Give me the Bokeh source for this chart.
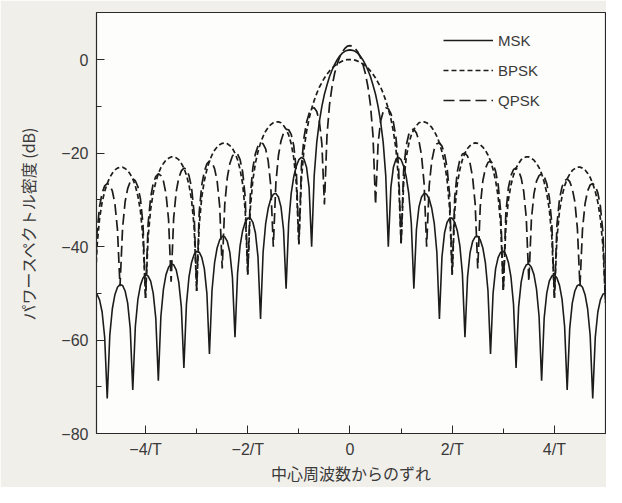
from bokeh.plotting import figure
from bokeh.models import Range1d, FixedTicker, Legend, LegendItem
from bokeh.embed import file_html
from bokeh.resources import INLINE

# frequency offset from the carrier, in units of 1/T
freq = [
    -5.00, -4.95, -4.90, -4.85, -4.80, -4.75, -4.70, -4.65, -4.60, -4.55,
    -4.50, -4.45, -4.40, -4.35, -4.30, -4.25, -4.20, -4.15, -4.10, -4.05,
    -4.00, -3.95, -3.90, -3.85, -3.80, -3.75, -3.70, -3.65, -3.60, -3.55,
    -3.50, -3.45, -3.40, -3.35, -3.30, -3.25, -3.20, -3.15, -3.10, -3.05,
    -3.00, -2.95, -2.90, -2.85, -2.80, -2.75, -2.70, -2.65, -2.60, -2.55,
    -2.50, -2.45, -2.40, -2.35, -2.30, -2.25, -2.20, -2.15, -2.10, -2.05,
    -2.00, -1.95, -1.90, -1.85, -1.80, -1.75, -1.70, -1.65, -1.60, -1.55,
    -1.50, -1.45, -1.40, -1.35, -1.30, -1.25, -1.20, -1.15, -1.10, -1.05,
    -1.00, -0.95, -0.90, -0.85, -0.80, -0.75, -0.70, -0.65, -0.60, -0.55,
    -0.50, -0.45, -0.40, -0.35, -0.30, -0.25, -0.20, -0.15, -0.10, -0.05,
    0.00, 0.05, 0.10, 0.15, 0.20, 0.25, 0.30, 0.35, 0.40, 0.45,
    0.50, 0.55, 0.60, 0.65, 0.70, 0.75, 0.80, 0.85, 0.90, 0.95,
    1.00, 1.05, 1.10, 1.15, 1.20, 1.25, 1.30, 1.35, 1.40, 1.45,
    1.50, 1.55, 1.60, 1.65, 1.70, 1.75, 1.80, 1.85, 1.90, 1.95,
    2.00, 2.05, 2.10, 2.15, 2.20, 2.25, 2.30, 2.35, 2.40, 2.45,
    2.50, 2.55, 2.60, 2.65, 2.70, 2.75, 2.80, 2.85, 2.90, 2.95,
    3.00, 3.05, 3.10, 3.15, 3.20, 3.25, 3.30, 3.35, 3.40, 3.45,
    3.50, 3.55, 3.60, 3.65, 3.70, 3.75, 3.80, 3.85, 3.90, 3.95,
    4.00, 4.05, 4.10, 4.15, 4.20, 4.25, 4.30, 4.35, 4.40, 4.45,
    4.50, 4.55, 4.60, 4.65, 4.70, 4.75, 4.80, 4.85, 4.90, 4.95,
    5.00,
]

msk_db = [
    -49.9, -50.2, -51.4, -54.0, -59.4, -72.5, -59.0, -53.3, -50.3, -48.7,
    -48.1, -48.3, -49.5, -52.1, -57.5, -70.7, -57.1, -51.3, -48.3, -46.7,
    -46.0, -46.3, -47.4, -50.0, -55.3, -68.7, -54.9, -49.1, -46.0, -44.4,
    -43.7, -43.9, -45.0, -47.6, -52.9, -66.0, -52.3, -46.5, -43.4, -41.7,
    -41.0, -41.2, -42.3, -44.7, -50.0, -63.0, -49.4, -43.5, -40.3, -38.6,
    -37.8, -37.9, -38.9, -41.3, -46.6, -59.4, -45.8, -39.8, -36.6, -34.8,
    -33.9, -33.9, -34.8, -37.1, -42.2, -55.5, -41.2, -35.1, -31.8, -29.8,
    -28.8, -28.6, -29.4, -31.5, -36.4, -49.0, -35.0, -28.6, -25.0, -22.8,
    -21.4, -20.9, -21.3, -23.0, -27.4, -40.0, -24.8, -17.7, -13.3, -10.0,
    -7.4, -5.4, -3.6, -2.2, -1.0, 0.0, 0.8, 1.4, 1.8, 2.0,
    2.1, 2.0, 1.8, 1.4, 0.8, 0.0, -1.0, -2.2, -3.6, -5.4,
    -7.4, -10.0, -13.3, -17.7, -24.8, -40.0, -27.4, -23.0, -21.3, -20.9,
    -21.4, -22.8, -25.0, -28.6, -35.0, -49.0, -36.4, -31.5, -29.4, -28.6,
    -28.8, -29.8, -31.8, -35.1, -41.2, -55.5, -42.2, -37.1, -34.8, -33.9,
    -33.9, -34.8, -36.6, -39.8, -45.8, -59.4, -46.6, -41.3, -38.9, -37.9,
    -37.8, -38.6, -40.3, -43.5, -49.4, -63.0, -50.0, -44.7, -42.3, -41.2,
    -41.0, -41.7, -43.4, -46.5, -52.3, -66.0, -52.9, -47.6, -45.0, -43.9,
    -43.7, -44.4, -46.0, -49.1, -54.9, -68.7, -55.3, -50.0, -47.4, -46.3,
    -46.0, -46.7, -48.3, -51.3, -57.1, -70.7, -57.5, -52.1, -49.5, -48.3,
    -48.1, -48.7, -50.3, -53.3, -59.0, -72.5, -59.4, -54.0, -51.4, -50.2,
    -49.9,
]

bpsk_db = [
    -52.0, -40.0, -34.0, -30.5, -28.2, -26.5, -25.2, -24.3, -23.6, -23.2,
    -23.0, -23.0, -23.3, -23.7, -24.5, -25.5, -27.0, -29.2, -32.4, -38.2,
    -51.0, -38.0, -32.0, -28.5, -26.2, -24.4, -23.1, -22.2, -21.5, -21.1,
    -20.8, -20.8, -21.0, -21.4, -22.2, -23.2, -24.7, -26.8, -30.0, -35.7,
    -49.5, -35.4, -29.4, -25.9, -23.5, -21.7, -20.4, -19.4, -18.7, -18.2,
    -17.9, -17.8, -18.0, -18.4, -19.0, -20.0, -21.4, -23.5, -26.6, -32.3,
    -46.0, -31.9, -25.7, -22.1, -19.7, -17.8, -16.4, -15.3, -14.5, -13.9,
    -13.5, -13.3, -13.3, -13.5, -14.1, -14.9, -16.1, -18.0, -21.0, -26.5,
    -39.5, -25.6, -19.2, -15.4, -12.6, -10.5, -8.7, -7.2, -5.9, -4.9,
    -3.9, -3.1, -2.4, -1.8, -1.3, -0.9, -0.6, -0.3, -0.1, 0.0,
    0.0, 0.0, -0.1, -0.3, -0.6, -0.9, -1.3, -1.8, -2.4, -3.1,
    -3.9, -4.9, -5.9, -7.2, -8.7, -10.5, -12.6, -15.4, -19.2, -25.6,
    -39.5, -26.5, -21.0, -18.0, -16.1, -14.9, -14.1, -13.5, -13.3, -13.3,
    -13.5, -13.9, -14.5, -15.3, -16.4, -17.8, -19.7, -22.1, -25.7, -31.9,
    -46.0, -32.3, -26.6, -23.5, -21.4, -20.0, -19.0, -18.4, -18.0, -17.8,
    -17.9, -18.2, -18.7, -19.4, -20.4, -21.7, -23.5, -25.9, -29.4, -35.4,
    -49.5, -35.7, -30.0, -26.8, -24.7, -23.2, -22.2, -21.4, -21.0, -20.8,
    -20.8, -21.1, -21.5, -22.2, -23.1, -24.4, -26.2, -28.5, -32.0, -38.0,
    -51.0, -38.2, -32.4, -29.2, -27.0, -25.5, -24.5, -23.7, -23.3, -23.0,
    -23.0, -23.2, -23.6, -24.3, -25.2, -26.5, -28.2, -30.5, -34.0, -40.0,
    -52.0,
]

qpsk_db = [
    -52.0, -37.0, -31.4, -28.5, -27.0, -26.5, -26.8, -28.1, -30.8, -36.3,
    -48.5, -36.1, -30.4, -27.6, -26.1, -25.5, -25.9, -27.2, -29.8, -35.3,
    -51.0, -35.1, -29.4, -26.5, -25.0, -24.4, -24.8, -26.0, -28.7, -34.2,
    -47.5, -33.9, -28.2, -25.3, -23.8, -23.2, -23.5, -24.8, -27.4, -32.8,
    -49.5, -32.6, -26.8, -23.9, -22.3, -21.7, -22.0, -23.3, -25.9, -31.3,
    -44.7, -30.9, -25.2, -22.2, -20.6, -20.0, -20.2, -21.4, -24.0, -29.4,
    -46.0, -29.0, -23.1, -20.1, -18.5, -17.8, -18.0, -19.1, -21.7, -27.0,
    -40.0, -26.4, -20.5, -17.4, -15.7, -14.9, -15.0, -16.0, -18.4, -23.6,
    -39.5, -22.7, -16.7, -13.4, -11.5, -10.5, -10.3, -11.1, -13.1, -18.0,
    -31.0, -16.2, -9.6, -5.7, -2.9, -0.9, 0.6, 1.7, 2.4, 2.9,
    3.0, 2.9, 2.4, 1.7, 0.6, -0.9, -2.9, -5.7, -9.6, -16.2,
    -31.0, -18.0, -13.1, -11.1, -10.3, -10.5, -11.5, -13.4, -16.7, -22.7,
    -39.5, -23.6, -18.4, -16.0, -15.0, -14.9, -15.7, -17.4, -20.5, -26.4,
    -40.0, -27.0, -21.7, -19.1, -18.0, -17.8, -18.5, -20.1, -23.1, -29.0,
    -46.0, -29.4, -24.0, -21.4, -20.2, -20.0, -20.6, -22.2, -25.2, -30.9,
    -44.7, -31.3, -25.9, -23.3, -22.0, -21.7, -22.3, -23.9, -26.8, -32.6,
    -49.5, -32.8, -27.4, -24.8, -23.5, -23.2, -23.8, -25.3, -28.2, -33.9,
    -47.5, -34.2, -28.7, -26.0, -24.8, -24.4, -25.0, -26.5, -29.4, -35.1,
    -51.0, -35.3, -29.8, -27.2, -25.9, -25.5, -26.1, -27.6, -30.4, -36.1,
    -48.5, -36.3, -30.8, -28.1, -26.8, -26.5, -27.0, -28.5, -31.4, -37.0,
    -52.0,
]

series_names = ["MSK", "BPSK", "QPSK"]
x_tick_values = [-4, -2, 0, 2, 4]
x_minor_values = [-3, -1, 1, 3]
x_tick_labels = ["\u22124/T", "\u22122/T", "0", "2/T", "4/T"]
y_tick_values = [-80, -60, -40, -20, 0]
y_minor_values = [-70, -50, -30, -10]
y_tick_labels = ["\u221280", "\u221260", "\u221240", "\u221220", "0"]
x_title = "中心周波数からのずれ"
y_title = "パワースペクトル密度 (dB)"

ink = "#1c1c1c"
text_col = "#3a3a3a"
tick_font = "Liberation Sans"
cjk_font = "Noto Sans CJK JP"

p = figure(
    frame_width=509, frame_height=421,
    x_range=Range1d(-4.96, 5.0), y_range=Range1d(-80, 10.1),
    output_backend="svg", toolbar_location=None,
    min_border_left=96, min_border_right=1, min_border_top=12, min_border_bottom=10,
    background_fill_color="#fdfdfb", border_fill_color="#f1efea",
)
p.grid.visible = False
p.outline_line_color = "#2a2a2a"
p.outline_line_width = 1.2

r_q = p.line(freq, qpsk_db, line_color=ink, line_width=1.7, line_dash="11 5")
r_b = p.line(freq, bpsk_db, line_color=ink, line_width=1.7, line_dash="5 3")
r_m = p.line(freq, msk_db, line_color=ink, line_width=1.6)

# axes
p.xaxis.ticker = FixedTicker(ticks=x_tick_values, minor_ticks=x_minor_values)
p.xaxis.major_label_overrides = dict(zip(x_tick_values, x_tick_labels))
p.yaxis.ticker = FixedTicker(ticks=y_tick_values, minor_ticks=y_minor_values)
p.yaxis.major_label_overrides = dict(zip(y_tick_values, y_tick_labels))
for ax in (p.xaxis, p.yaxis):
    ax.axis_line_color = "#2a2a2a"
    ax.major_tick_in = 8
    ax.major_tick_out = 0
    ax.minor_tick_in = 5
    ax.minor_tick_out = 0
    ax.major_tick_line_color = "#2a2a2a"
    ax.minor_tick_line_color = "#2a2a2a"
    ax.major_label_text_font = tick_font
    ax.major_label_text_font_size = "16px"
    ax.major_label_text_color = text_col
    ax.axis_label_text_font = cjk_font
    ax.axis_label_text_font_size = "16px"
    ax.axis_label_text_font_style = "normal"
    ax.axis_label_text_color = text_col
p.xaxis.axis_label = x_title
p.yaxis.axis_label = y_title
p.xaxis.major_label_standoff = 7
p.xaxis.axis_label_standoff = 0
p.yaxis.major_label_standoff = 8
p.yaxis.axis_label_standoff = 18

legend = Legend(
    items=[
        LegendItem(label=series_names[0], renderers=[r_m]),
        LegendItem(label=series_names[1], renderers=[r_b]),
        LegendItem(label=series_names[2], renderers=[r_q]),
    ],
    location=(347, 323),
    orientation="vertical",
    glyph_width=50, glyph_height=20, label_height=20,
    label_standoff=5, spacing=10, padding=0, margin=0,
    border_line_color=None, background_fill_alpha=0,
    label_text_font=tick_font, label_text_font_size="15px",
    label_text_color=text_col,
)
p.add_layout(legend)

open("out.html", "w").write(file_html(p, INLINE))
